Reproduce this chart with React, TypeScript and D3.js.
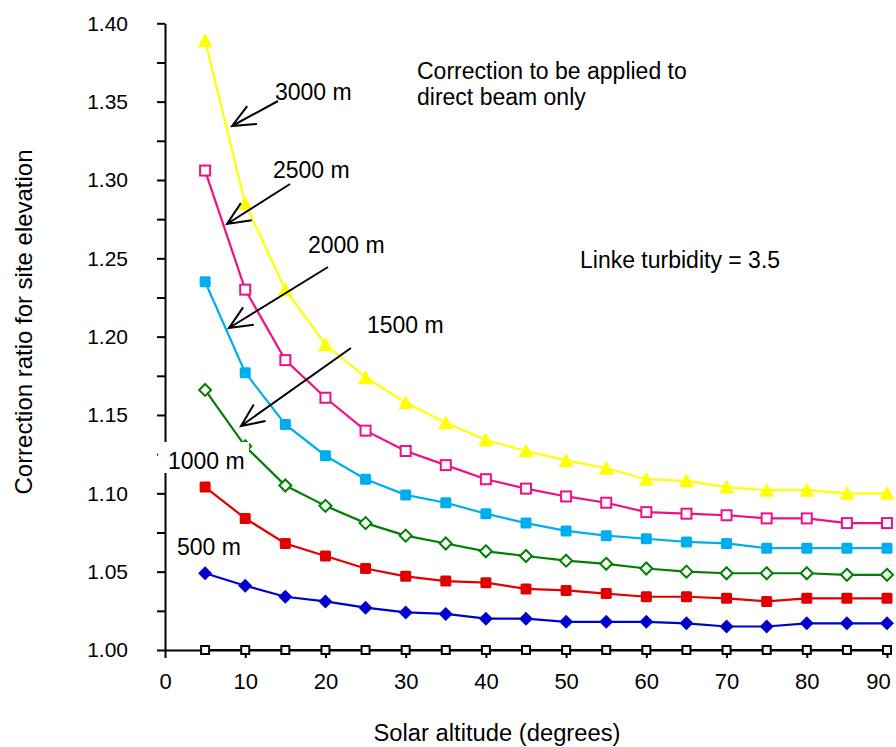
import React, { useEffect, useRef } from "react";
import * as d3 from "d3";

// solar altitude (degrees)
const altitudes = [5, 10, 15, 20, 25, 30, 35, 40, 45, 50, 55, 60, 65, 70, 75, 80, 85, 90];

// correction ratio for each site elevation
const ratio3000 = [1.389, 1.285, 1.23, 1.195, 1.174, 1.158, 1.145, 1.134, 1.127, 1.121, 1.116, 1.109, 1.108, 1.104, 1.102, 1.102, 1.1, 1.1];
const ratio2500 = [1.306, 1.23, 1.185, 1.161, 1.14, 1.127, 1.118, 1.109, 1.103, 1.098, 1.094, 1.088, 1.087, 1.086, 1.084, 1.084, 1.081, 1.081];
const ratio2000 = [1.235, 1.177, 1.144, 1.124, 1.109, 1.099, 1.094, 1.087, 1.081, 1.076, 1.073, 1.071, 1.069, 1.068, 1.065, 1.065, 1.065, 1.065];
const ratio1500 = [1.166, 1.13, 1.105, 1.092, 1.081, 1.073, 1.068, 1.063, 1.06, 1.057, 1.055, 1.052, 1.05, 1.049, 1.049, 1.049, 1.048, 1.048];
const ratio1000 = [1.104, 1.084, 1.068, 1.06, 1.052, 1.047, 1.044, 1.043, 1.039, 1.038, 1.036, 1.034, 1.034, 1.033, 1.031, 1.033, 1.033, 1.033];
const ratio500 = [1.049, 1.041, 1.034, 1.031, 1.027, 1.024, 1.023, 1.02, 1.02, 1.018, 1.018, 1.018, 1.017, 1.015, 1.015, 1.017, 1.017, 1.017];
const ratio0 = [1, 1, 1, 1, 1, 1, 1, 1, 1, 1, 1, 1, 1, 1, 1, 1, 1, 1];

const xTicks = [0, 10, 20, 30, 40, 50, 60, 70, 80, 90];
const yTicks = [1.0, 1.025, 1.05, 1.075, 1.1, 1.125, 1.15, 1.175, 1.2, 1.225, 1.25, 1.275, 1.3, 1.325, 1.35, 1.375, 1.4];

const FONT = "'Liberation Sans', Arial, sans-serif";

const series = [
  { name: "0 m", values: ratio0, color: "#000000", marker: "openSquareSmall" },
  { name: "500 m", values: ratio500, color: "#0000CD", marker: "diamond" },
  { name: "1000 m", values: ratio1000, color: "#E00000", marker: "square" },
  { name: "1500 m", values: ratio1500, color: "#008000", marker: "openDiamond" },
  { name: "2000 m", values: ratio2000, color: "#00AEEF", marker: "square" },
  { name: "2500 m", values: ratio2500, color: "#EC108A", marker: "openSquare" },
  { name: "3000 m", values: ratio3000, color: "#FFFF00", marker: "triangle" },
];

export default function App() {
  const ref = useRef<SVGSVGElement>(null);

  useEffect(() => {
    const svg = d3.select(ref.current);
    svg.selectAll("*").remove();

    const x = d3.scaleLinear().domain([0, 90]).range([165, 887]);
    const y = d3.scaleLinear().domain([1, 1.4]).range([650, 23.3]);

    // Y axis
    const yAxis = svg
      .append("g")
      .attr("transform", "translate(165,0)")
      .call(
        d3
          .axisLeft(y)
          .tickValues(yTicks)
          .tickSize(8)
          .tickSizeOuter(0)
          .tickPadding(29)
          .tickFormat((d) => {
            const v = +d;
            return Math.round(v * 1000) % 50 === 0 ? v.toFixed(2) : "";
          })
      );
    yAxis.select(".domain").attr("stroke-width", 2);
    yAxis.selectAll(".tick line").attr("stroke-width", 2);
    yAxis
      .selectAll(".tick text")
      .attr("font-family", FONT)
      .attr("font-size", 21)
      .attr("fill", "#000");

    // X axis
    const xAxis = svg
      .append("g")
      .attr("transform", "translate(0,650)")
      .call(d3.axisBottom(x).tickValues(xTicks).tickSize(8).tickSizeOuter(0).tickPadding(15));
    xAxis.select(".domain").attr("stroke-width", 2);
    xAxis.selectAll(".tick line").attr("stroke-width", 2);
    xAxis
      .selectAll(".tick text")
      .attr("font-family", FONT)
      .attr("font-size", 22)
      .attr("fill", "#000")
      .attr("dx", (d) => (+d === 90 ? -9 : 0));

    // Axis titles
    svg
      .append("text")
      .attr("x", 497)
      .attr("y", 741)
      .attr("text-anchor", "middle")
      .attr("font-family", FONT)
      .attr("font-size", 23)
      .attr("textLength", 247)
      .attr("lengthAdjust", "spacingAndGlyphs")
      .text("Solar altitude (degrees)");

    svg
      .append("text")
      .attr("transform", "translate(32,322) rotate(-90)")
      .attr("text-anchor", "middle")
      .attr("font-family", FONT)
      .attr("font-size", 24)
      .attr("textLength", 345)
      .attr("lengthAdjust", "spacingAndGlyphs")
      .text("Correction ratio for site elevation");

    // Lines
    const line = d3
      .line<number>()
      .x((_, i) => x(altitudes[i]))
      .y((d) => y(d));

    series.forEach((s) => {
      svg
        .append("path")
        .datum(s.values)
        .attr("d", line)
        .attr("fill", "none")
        .attr("stroke", s.color)
        .attr("stroke-width", 2.2);
    });

    // Markers
    series.forEach((s) => {
      const g = svg.append("g");
      s.values.forEach((v, i) => {
        const cx = x(altitudes[i]);
        const cy = y(v);
        if (s.marker === "triangle") {
          g.append("path")
            .attr("d", `M${cx},${cy - 7.5}L${cx + 7.5},${cy + 6.5}L${cx - 7.5},${cy + 6.5}Z`)
            .attr("fill", s.color);
        } else if (s.marker === "square") {
          g.append("rect")
            .attr("x", cx - 5.5)
            .attr("y", cy - 5.5)
            .attr("width", 11)
            .attr("height", 11)
            .attr("rx", 1.5)
            .attr("fill", s.color);
        } else if (s.marker === "openSquare") {
          g.append("rect")
            .attr("x", cx - 5)
            .attr("y", cy - 5)
            .attr("width", 10)
            .attr("height", 10)
            .attr("fill", "#fff")
            .attr("stroke", s.color)
            .attr("stroke-width", 2);
        } else if (s.marker === "openSquareSmall") {
          g.append("rect")
            .attr("x", cx - 4)
            .attr("y", cy - 4)
            .attr("width", 8)
            .attr("height", 8)
            .attr("fill", "#fff")
            .attr("stroke", s.color)
            .attr("stroke-width", 2);
        } else if (s.marker === "diamond") {
          g.append("path")
            .attr("d", `M${cx},${cy - 7}L${cx + 7},${cy}L${cx},${cy + 7}L${cx - 7},${cy}Z`)
            .attr("fill", s.color);
        } else if (s.marker === "openDiamond") {
          g.append("path")
            .attr("d", `M${cx},${cy - 6}L${cx + 6},${cy}L${cx},${cy + 6}L${cx - 6},${cy}Z`)
            .attr("fill", "#fff")
            .attr("stroke", s.color)
            .attr("stroke-width", 2);
        }
      });
    });

    // white box behind "1000 m" label
    svg.append("rect").attr("x", 158).attr("y", 442).attr("width", 91).attr("height", 31).attr("fill", "#fff");

    const labelText = (tx: number, ty: number, t: string) =>
      svg
        .append("text")
        .attr("x", tx)
        .attr("y", ty)
        .attr("font-family", FONT)
        .attr("font-size", 23)
        .attr("fill", "#000")
        .text(t);

    labelText(168, 469, "1000 m");
    labelText(177, 555, "500 m");
    labelText(275, 100, "3000 m");
    labelText(273, 178, "2500 m");
    labelText(308, 253, "2000 m");
    labelText(367, 333, "1500 m");

    // arrows
    const arrows = [
      { from: [278, 101], to: [232, 126] },
      { from: [290, 184], to: [227, 224] },
      { from: [328, 267], to: [229, 328] },
      { from: [351, 348], to: [241, 426] },
    ];
    arrows.forEach((a) => {
      const [x1, y1] = a.from;
      const [x2, y2] = a.to;
      const ang = Math.atan2(y1 - y2, x1 - x2);
      const len = 25;
      const spread = (24 * Math.PI) / 180;
      const h1 = [x2 + len * Math.cos(ang - spread), y2 + len * Math.sin(ang - spread)];
      const h2 = [x2 + len * Math.cos(ang + spread), y2 + len * Math.sin(ang + spread)];
      svg
        .append("path")
        .attr("d", `M${x1},${y1}L${x2},${y2}M${h1[0]},${h1[1]}L${x2},${y2}L${h2[0]},${h2[1]}`)
        .attr("fill", "none")
        .attr("stroke", "#000")
        .attr("stroke-width", 2);
    });

    // notes
    const note = svg
      .append("text")
      .attr("font-family", FONT)
      .attr("font-size", 23)
      .attr("fill", "#000");
    note.append("tspan").attr("x", 417).attr("y", 79).text("Correction to be applied to");
    note.append("tspan").attr("x", 417).attr("y", 105).text("direct beam only");

    labelText(580, 268, "Linke turbidity = 3.5");
  }, []);

  return (
    <svg
      ref={ref}
      width={896}
      height={747}
      style={{ position: "absolute", left: 0, top: 0, background: "#fff" }}
    />
  );
}
